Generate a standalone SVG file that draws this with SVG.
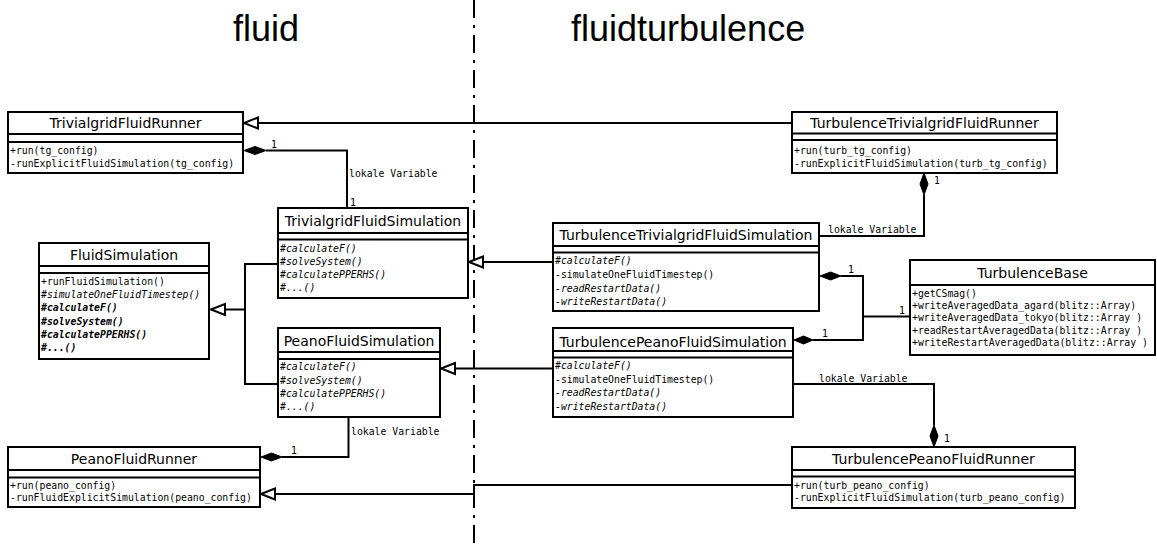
<svg xmlns="http://www.w3.org/2000/svg" width="1157" height="548" viewBox="0 0 1157 548">
  <style>
    .box { fill: #fff; stroke: #000; stroke-width: 2; }
    .sep { stroke: #000; stroke-width: 2; fill: none; }
    .title { font-family: "DejaVu Sans", sans-serif; font-size: 14px; text-anchor: middle; fill: #000; }
    .m { font-family: "DejaVu Sans Mono", monospace; font-size: 9.8px; fill: #000; }
    .it { font-style: italic; }
    .bi { font-style: italic; font-weight: bold; }
    .pkg { font-family: "Liberation Sans", Arial, sans-serif; font-size: 36px; fill: #000; }
    .line { stroke: #000; stroke-width: 2; fill: none; }
    .hollow { fill: #fff; stroke: #000; stroke-width: 2; }
    .solid { fill: #000; stroke: #000; stroke-width: 1; }
    .lbl { font-family: "DejaVu Sans Mono", monospace; font-size: 9.8px; fill: #000; }
  </style>

  <!-- package headings and divider -->
  <text class="pkg" x="233" y="41">fluid</text>
  <text class="pkg" x="571" y="41">fluidturbulence</text>
  <line x1="474" y1="0" x2="474" y2="548" stroke="#000" stroke-width="2" stroke-dasharray="18 7 3 7"/>

  <!-- connectors -->
  <g id="connectors">
    <!-- TurbulenceTrivialgridFluidRunner -> TrivialgridFluidRunner -->
    <line class="line" x1="792" y1="123" x2="258" y2="123"/>
    <polygon class="hollow" points="244,123 258,117.5 258,128.5"/>

    <!-- TrivialgridFluidRunner <>- TrivialgridFluidSimulation -->
    <polyline class="line" points="266,150.5 347,150.5 347,208"/>
    <polygon class="solid" points="244,150.5 255,146.5 266,150.5 255,154.5"/>
    <text class="lbl" x="271" y="148">1</text>
    <text class="lbl" x="350" y="206">1</text>
    <text class="lbl" x="349" y="177">lokale Variable</text>

    <!-- TrivialgridFluidSimulation / PeanoFluidSimulation -> FluidSimulation -->
    <polyline class="line" points="278,264 245,264 245,384 278,384"/>
    <line class="line" x1="245" y1="309.5" x2="225" y2="309.5"/>
    <polygon class="hollow" points="211,309.5 225,304 225,315"/>

    <!-- TurbulenceTrivialgridFluidSimulation -> TrivialgridFluidSimulation -->
    <line class="line" x1="553" y1="262" x2="483" y2="262"/>
    <polygon class="hollow" points="469,262 483,256.5 483,267.5"/>

    <!-- TurbulencePeanoFluidSimulation -> PeanoFluidSimulation -->
    <line class="line" x1="553" y1="368.5" x2="455" y2="368.5"/>
    <polygon class="hollow" points="441,368.5 455,363 455,374"/>

    <!-- PeanoFluidRunner <>- PeanoFluidSimulation -->
    <polyline class="line" points="282,457 348.5,457 348.5,417"/>
    <polygon class="solid" points="261,457 271.5,453 282,457 271.5,461"/>
    <text class="lbl" x="291" y="454">1</text>
    <text class="lbl" x="351" y="435">lokale Variable</text>

    <!-- TurbulencePeanoFluidRunner -> PeanoFluidRunner -->
    <polyline class="line" points="792,485 474,485 474,494 275,494"/>
    <polygon class="hollow" points="261,494 275,488.5 275,499.5"/>

    <!-- TurbulenceTrivialgridFluidRunner <>- TurbulenceTrivialgridFluidSimulation -->
    <polyline class="line" points="924,195 924,236 819,236"/>
    <polygon class="solid" points="924,173 928,184 924,195 920,184"/>
    <text class="lbl" x="934" y="184">1</text>
    <text class="lbl" x="828" y="233">lokale Variable</text>

    <!-- Turbulence simulations <>- TurbulenceBase -->
    <polyline class="line" points="841,276 863,276 863,340 813,340"/>
    <line class="line" x1="863" y1="316.5" x2="910" y2="316.5"/>
    <polygon class="solid" points="820,276 830.5,272 841,276 830.5,280"/>
    <polygon class="solid" points="794,340 803.5,336 813,340 803.5,344"/>
    <text class="lbl" x="848" y="273">1</text>
    <text class="lbl" x="822" y="337">1</text>
    <text class="lbl" x="899" y="314">1</text>

    <!-- TurbulencePeanoFluidRunner <>- TurbulencePeanoFluidSimulation -->
    <polyline class="line" points="793,384 934,384 934,425"/>
    <polygon class="solid" points="934,425 938,436 934,447 930,436"/>
    <text class="lbl" x="819" y="382">lokale Variable</text>
    <text class="lbl" x="944" y="442">1</text>
  </g>

  <!-- fluid package -->
  <g id="TrivialgridFluidRunner">
    <rect class="box" x="8" y="112" width="235" height="61"/>
    <line class="sep" x1="8" y1="134" x2="243" y2="134"/>
    <line class="sep" x1="8" y1="142" x2="243" y2="142"/>
    <text class="title" x="125.5" y="128">TrivialgridFluidRunner</text>
    <text class="m" x="10" y="154">+run(tg_config)</text>
    <text class="m" x="10" y="166.5">-runExplicitFluidSimulation(tg_config)</text>
  </g>

  <g id="TrivialgridFluidSimulation">
    <rect class="box" x="278" y="208" width="190" height="90"/>
    <line class="sep" x1="278" y1="233" x2="468" y2="233"/>
    <line class="sep" x1="278" y1="239.5" x2="468" y2="239.5"/>
    <text class="title" x="373" y="226">TrivialgridFluidSimulation</text>
    <text class="m it" x="280" y="251.5">#calculateF()</text>
    <text class="m it" x="280" y="265">#solveSystem()</text>
    <text class="m it" x="280" y="278">#calculatePPERHS()</text>
    <text class="m it" x="280" y="291">#...()</text>
  </g>

  <g id="FluidSimulation">
    <rect class="box" x="39" y="243" width="170" height="116"/>
    <line class="sep" x1="39" y1="266" x2="209" y2="266"/>
    <line class="sep" x1="39" y1="273" x2="209" y2="273"/>
    <text class="title" x="124" y="260">FluidSimulation</text>
    <text class="m" x="41" y="284.5">+runFluidSimulation()</text>
    <text class="m it" x="41" y="298">#simulateOneFluidTimestep()</text>
    <text class="m bi" x="41" y="311">#calculateF()</text>
    <text class="m bi" x="41" y="324.5">#solveSystem()</text>
    <text class="m bi" x="41" y="338">#calculatePPERHS()</text>
    <text class="m bi" x="41" y="351">#...()</text>
  </g>

  <g id="PeanoFluidSimulation">
    <rect class="box" x="278" y="328" width="162" height="89"/>
    <line class="sep" x1="278" y1="352" x2="440" y2="352"/>
    <line class="sep" x1="278" y1="359" x2="440" y2="359"/>
    <text class="title" x="359" y="346">PeanoFluidSimulation</text>
    <text class="m it" x="280" y="370">#calculateF()</text>
    <text class="m it" x="280" y="383.5">#solveSystem()</text>
    <text class="m it" x="280" y="397">#calculatePPERHS()</text>
    <text class="m it" x="280" y="410">#...()</text>
  </g>

  <g id="PeanoFluidRunner">
    <rect class="box" x="8" y="447" width="252" height="60"/>
    <line class="sep" x1="8" y1="470" x2="260" y2="470"/>
    <line class="sep" x1="8" y1="477.5" x2="260" y2="477.5"/>
    <text class="title" x="134" y="463.5">PeanoFluidRunner</text>
    <text class="m" x="10" y="488.5">+run(peano_config)</text>
    <text class="m" x="10" y="501">-runFluidExplicitSimulation(peano_config)</text>
  </g>

  <!-- fluidturbulence package -->
  <g id="TurbulenceTrivialgridFluidRunner">
    <rect class="box" x="792" y="112" width="265" height="61"/>
    <line class="sep" x1="792" y1="133.5" x2="1057" y2="133.5"/>
    <line class="sep" x1="792" y1="140" x2="1057" y2="140"/>
    <text class="title" x="924.5" y="128">TurbulenceTrivialgridFluidRunner</text>
    <text class="m" x="794" y="153.5">+run(turb_tg_config)</text>
    <text class="m" x="794" y="166.5">-runExplicitFluidSimulation(turb_tg_config)</text>
  </g>

  <g id="TurbulenceTrivialgridFluidSimulation">
    <rect class="box" x="553" y="223" width="266" height="88"/>
    <line class="sep" x1="553" y1="246" x2="819" y2="246"/>
    <line class="sep" x1="553" y1="252.5" x2="819" y2="252.5"/>
    <text class="title" x="686" y="240">TurbulenceTrivialgridFluidSimulation</text>
    <text class="m it" x="555" y="264">#calculateF()</text>
    <text class="m" x="555" y="278">-simulateOneFluidTimestep()</text>
    <text class="m it" x="555" y="291.5">-readRestartData()</text>
    <text class="m it" x="555" y="305">-writeRestartData()</text>
  </g>

  <g id="TurbulencePeanoFluidSimulation">
    <rect class="box" x="553" y="328" width="240" height="89"/>
    <line class="sep" x1="553" y1="351" x2="793" y2="351"/>
    <line class="sep" x1="553" y1="357.5" x2="793" y2="357.5"/>
    <text class="title" x="673" y="346.5">TurbulencePeanoFluidSimulation</text>
    <text class="m it" x="555" y="368.5">#calculateF()</text>
    <text class="m" x="555" y="382.5">-simulateOneFluidTimestep()</text>
    <text class="m it" x="555" y="396">-readRestartData()</text>
    <text class="m it" x="555" y="409.5">-writeRestartData()</text>
  </g>

  <g id="TurbulenceBase">
    <rect class="box" x="910" y="260" width="245" height="95"/>
    <line class="sep" x1="910" y1="285" x2="1155" y2="285"/>
    <text class="title" x="1032.5" y="278">TurbulenceBase</text>
    <text class="m" x="912" y="296.5">+getCSmag()</text>
    <text class="m" x="912" y="308.5">+writeAveragedData_agard(blitz::Array)</text>
    <text class="m" x="912" y="321">+writeAveragedData_tokyo(blitz::Array )</text>
    <text class="m" x="912" y="333.5">+readRestartAveragedData(blitz::Array )</text>
    <text class="m" x="912" y="345.5">+writeRestartAveragedData(blitz::Array )</text>
  </g>

  <g id="TurbulencePeanoFluidRunner">
    <rect class="box" x="792" y="447" width="283" height="61"/>
    <line class="sep" x1="792" y1="470" x2="1075" y2="470"/>
    <line class="sep" x1="792" y1="476.5" x2="1075" y2="476.5"/>
    <text class="title" x="933.5" y="463.5">TurbulencePeanoFluidRunner</text>
    <text class="m" x="794" y="488.5">+run(turb_peano_config)</text>
    <text class="m" x="794" y="501">-runExplicitFluidSimulation(turb_peano_config)</text>
  </g>
</svg>
